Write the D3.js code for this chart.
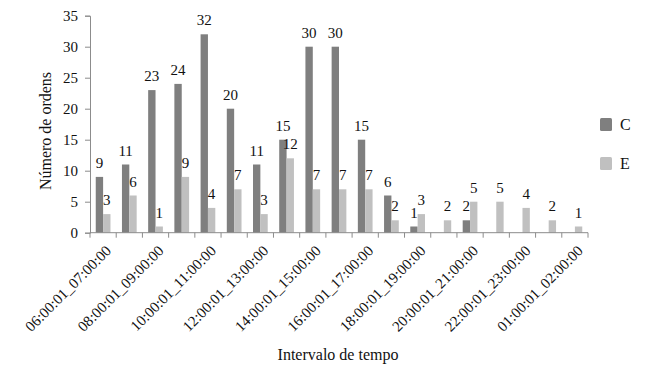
<!DOCTYPE html>
<html>
<head>
<meta charset="utf-8">
<script src="https://cdn.jsdelivr.net/npm/d3@7"></script>
<style>
  body { margin: 0; background: #fff; }
  text { font-family: "Liberation Serif", serif; fill: #111; }
</style>
</head>
<body>
<div class="graph"></div>
<script>
// intervals (hourly, 06h .. 23h, then 01h-02h)
let categories = ["06:00:01_07:00:00", "07:00:01_08:00:00", "08:00:01_09:00:00", "09:00:01_10:00:00",
    "10:00:01_11:00:00", "11:00:01_12:00:00", "12:00:01_13:00:00", "13:00:01_14:00:00",
    "14:00:01_15:00:00", "15:00:01_16:00:00", "16:00:01_17:00:00", "17:00:01_18:00:00",
    "18:00:01_19:00:00", "19:00:01_20:00:00", "20:00:01_21:00:00", "21:00:01_22:00:00",
    "22:00:01_23:00:00", "23:00:01_00:00:00", "01:00:01_02:00:00"];
let valuesC = [9, 11, 23, 24, 32, 20, 11, 15, 30, 30, 15, 6, 1, null, 2, null, null, null, null];
let valuesE = [3, 6, 1, 9, 4, 7, 3, 12, 7, 7, 7, 2, 3, 2, 5, 5, 4, 2, 1];
let seriesNames = ["C", "E"];
let seriesColors = ["#7f7f7f", "#c0c0c0"];
let yTicks = [0, 5, 10, 15, 20, 25, 30, 35];

let width = 650, height = 377;
let margin = {top: 15.7, left: 90, right: 62, bottom: 144.3};

let svg = d3.select(".graph").append("svg")
    .attr("width", width)
    .attr("height", height);

let x = d3.scaleBand()
    .domain(categories)
    .range([margin.left, width - margin.right])
    .padding(0);

let xs = d3.scaleBand()
    .domain(seriesNames)
    .range([0, x.bandwidth()])
    .paddingInner(0)
    .paddingOuter(0.78);

let y = d3.scaleLinear()
    .domain([0, 35])
    .range([height - margin.bottom, margin.top]);

let rows = categories.map((c, i) => ({cat: c, i: i, vals: [valuesC[i], valuesE[i]]}));

// bars
let groups = svg.append("g").selectAll("g")
    .data(rows)
    .join("g")
    .attr("transform", d => "translate(" + x(d.cat) + ",0)");

let cells = groups.selectAll("g")
    .data(d => d.vals.map((v, k) => ({s: seriesNames[k], k: k, v: v})).filter(e => e.v != null))
    .join("g");

cells.append("rect")
    .attr("x", d => xs(d.s))
    .attr("width", xs.bandwidth())
    .attr("y", d => y(d.v))
    .attr("height", d => y(0) - y(d.v))
    .attr("fill", d => seriesColors[d.k]);

cells.append("text")
    .attr("x", d => xs(d.s) + xs.bandwidth() / 2)
    .attr("y", d => y(d.v) - 9)
    .attr("text-anchor", "middle")
    .style("font-size", "15px")
    .text(d => d.v);

// y axis
let yAxis = svg.append("g")
    .attr("transform", "translate(" + margin.left + ",0)")
    .call(d3.axisLeft(y).tickValues(yTicks).tickSize(5).tickPadding(7));
yAxis.select(".domain").attr("stroke", "#8c8c8c");
yAxis.selectAll(".tick line").attr("stroke", "#8c8c8c");
yAxis.selectAll(".tick text")
    .style("font-family", "Liberation Serif")
    .style("font-size", "15px")
    .attr("fill", "#111");

// x axis: baseline and ticks at band edges
let xAxis = svg.append("g");
xAxis.append("line")
    .attr("x1", x.range()[0]).attr("x2", x.range()[1])
    .attr("y1", y(0)).attr("y2", y(0))
    .attr("stroke", "#8c8c8c");
let edges = categories.map(c => x(c)).concat([x.range()[1]]);
xAxis.selectAll(".edge")
    .data(edges)
    .join("line")
    .attr("class", "edge")
    .attr("x1", d => d).attr("x2", d => d)
    .attr("y1", y(0)).attr("y2", y(0) + 5)
    .attr("stroke", "#8c8c8c");

xAxis.selectAll(".lbl")
    .data(categories.filter((c, i) => i % 2 === 0))
    .join("text")
    .attr("class", "lbl")
    .attr("text-anchor", "end")
    .attr("transform", d => "translate(" + (x(d) + x.bandwidth() / 2 + 9) + "," + (y(0) + 19) + ") rotate(-45)")
    .style("font-size", "15px")
    .text(d => d);

// axis titles
svg.append("text")
    .attr("x", 338)
    .attr("y", 360)
    .attr("text-anchor", "middle")
    .style("font-size", "16px")
    .text("Intervalo de tempo");

svg.append("text")
    .attr("transform", "translate(51,131) rotate(-90)")
    .attr("text-anchor", "middle")
    .style("font-size", "16px")
    .text("Número de ordens");

// legend
let legend = svg.append("g").selectAll("g")
    .data(seriesNames)
    .join("g")
    .attr("transform", (d, i) => "translate(600," + (118 + i * 39) + ")");
legend.append("rect")
    .attr("width", 12).attr("height", 13)
    .attr("rx", 1.5)
    .attr("fill", (d, i) => seriesColors[i]);
legend.append("text")
    .attr("x", 20).attr("y", 12)
    .style("font-size", "16px")
    .text(d => d);
</script>
</body>
</html>
